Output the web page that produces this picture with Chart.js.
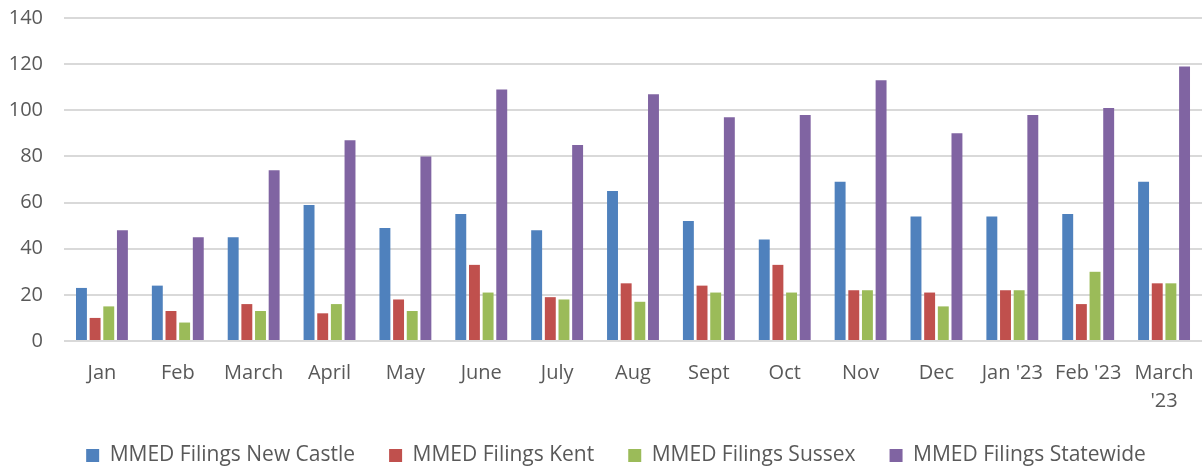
<!DOCTYPE html>
<html>
<head>
<meta charset="utf-8">
<script src="https://cdn.jsdelivr.net/npm/chart.js@4/dist/chart.umd.min.js"></script>
<style>
html,body{margin:0;padding:0;background:#fff;}
#wrap{width:1202px;height:467px;position:relative;}
</style>
</head>
<body>
<div id="wrap"><canvas id="c" width="1202" height="467"></canvas></div>
<script>
const categories = ["Jan","Feb","March","April","May","June","July","Aug","Sept","Oct","Nov","Dec","Jan '23","Feb '23",["March","'23"]];
const newCastle = [23,24,45,59,49,55,48,65,52,44,69,54,54,55,69];
const kent      = [10,13,16,12,18,33,19,25,24,33,22,21,22,16,25];
const sussex    = [15,8,13,16,13,21,18,17,21,21,22,15,22,30,25];
const statewide = [48,45,74,87,80,109,85,107,97,98,113,90,98,101,119];
const seriesNames = ["MMED Filings New Castle","MMED Filings Kent","MMED Filings Sussex","MMED Filings Statewide"];
const yTicks = [0,20,40,60,80,100,120,140];

const font = "'Open Sans', 'Liberation Sans', sans-serif";
const colors = ["#4f81bd","#c0504d","#9bbb59","#8064a2"];
const data = [newCastle,kent,sussex,statewide];

const legendFit = {
  id: 'legendFit',
  beforeLayout(chart){
    const lg = chart.legend;
    if (lg && !lg._patched) {
      const orig = Object.getPrototypeOf(lg).fit;
      lg.fit = function(){
        orig.call(this);
        this.height = 56;
        if (this.lineWidths && this.lineWidths.length) this.lineWidths[0] -= 30;
      };
      lg._patched = true;
    }
  }
};

new Chart(document.getElementById('c'), {
  type: 'bar',
  data: {
    labels: categories,
    datasets: data.map((d,i)=>({
      label: seriesNames[i],
      data: d,
      backgroundColor: colors[i],
      borderWidth: 0,
      categoryPercentage: 0.72,
      barPercentage: 0.8
    }))
  },
  options: {
    responsive: false,
    animation: false,
    layout: {padding: {top: 18, right: 0, left: 0, bottom: 0}},
    scales: {
      x: {
        grid: {display: false, drawTicks: false},
        border: {display: false},
        afterFit: (s)=>{ s.height = 70; s.paddingLeft = 0; s.paddingRight = 0; },
        ticks: {color: '#595959', font: {family: font, size: 20, lineHeight: 1.4}, padding: 18, maxRotation: 0, autoSkip: false}
      },
      y: {
        min: 0, max: 140,
        afterBuildTicks: (s)=>{ s.ticks = yTicks.map(v=>({value:v})); },
        afterFit: (s)=>{ s.width = 64; s.paddingTop = 0; s.paddingBottom = 0; },
        grid: {color: '#d9d9d9', lineWidth: 2, drawTicks: false},
        border: {display: false},
        ticks: {color: '#595959', font: {family: font, size: 20}, padding: 21}
      }
    },
    plugins: {
      legend: {
        position: 'bottom',
        labels: {color: '#595959', font: {family: font, size: 21}, boxWidth: 13, boxHeight: 13, padding: 34}
      },
      tooltip: {enabled: false}
    }
  },
  plugins: [legendFit]
});
</script>
</body>
</html>
